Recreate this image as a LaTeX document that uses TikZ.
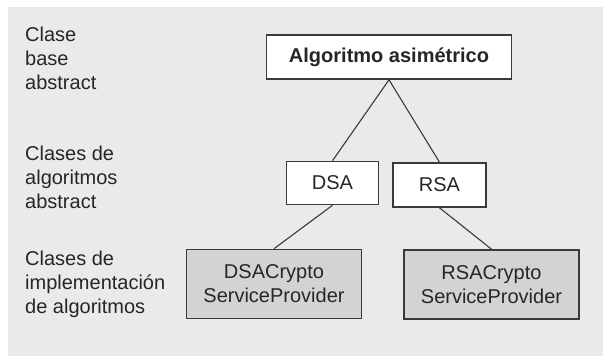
\documentclass[tikz,border=0pt]{standalone}
\usepackage{fontspec}
\setmainfont{Liberation Sans}
\definecolor{panel}{HTML}{EAEAEA}
\definecolor{implfill}{HTML}{D3D3D3}
\definecolor{edge}{HTML}{3A3A3A}
\definecolor{ink}{HTML}{262626}
\begin{document}
\begin{tikzpicture}[x=1pt,y=-1pt,
  every node/.style={text=ink},
  level/.style={anchor=north west,align=left,inner sep=0pt,
    font=\fontsize{20}{24}\selectfont},
  classbox/.style={draw=edge,line width=1.6pt,fill=white,minimum height=#1,
    inner sep=0pt,align=center,font=\fontsize{20}{24}\selectfont},
  classbox/.default=44pt,
  implbox/.style={classbox=69pt,fill=implfill,minimum width=175pt},
  link/.style={draw=edge,line width=1.1pt}]
\useasboundingbox (0,0) rectangle (603,356);
\fill[white] (0,0) rectangle (603,356);
\fill[panel] (8,7) rectangle (603,356);

% level captions
\node[level] (lbase) at (25,27) {Clase\\base\\abstract};
\node[level] (lalg) at (25,146) {Clases de\\algoritmos\\abstract};
\node[level] (limpl) at (25,251) {Clases de\\implementación\\de algoritmos};

% class hierarchy
\node[classbox,minimum width=245pt,font=\bfseries\fontsize{20}{24}\selectfont]
  (asym) at (389,57) {Algoritmo asimétrico};
\node[classbox=43pt,minimum width=92pt] (dsa) at (332.5,183) {DSA};
\node[classbox,minimum width=93pt] (rsa) at (439.5,185) {RSA};
\node[implbox] (dsacsp) at (274,284) {DSACrypto\\ServiceProvider};
\node[implbox] (rsacsp) at (491.5,284.5) {RSACrypto\\ServiceProvider};

\draw[link] (asym.south) -- (dsa.north);
\draw[link] (asym.south) -- (rsa.north);
\draw[link] (dsa.south) -- (dsacsp.north);
\draw[link] (rsa.south) -- (rsacsp.north);
\end{tikzpicture}
\end{document}
